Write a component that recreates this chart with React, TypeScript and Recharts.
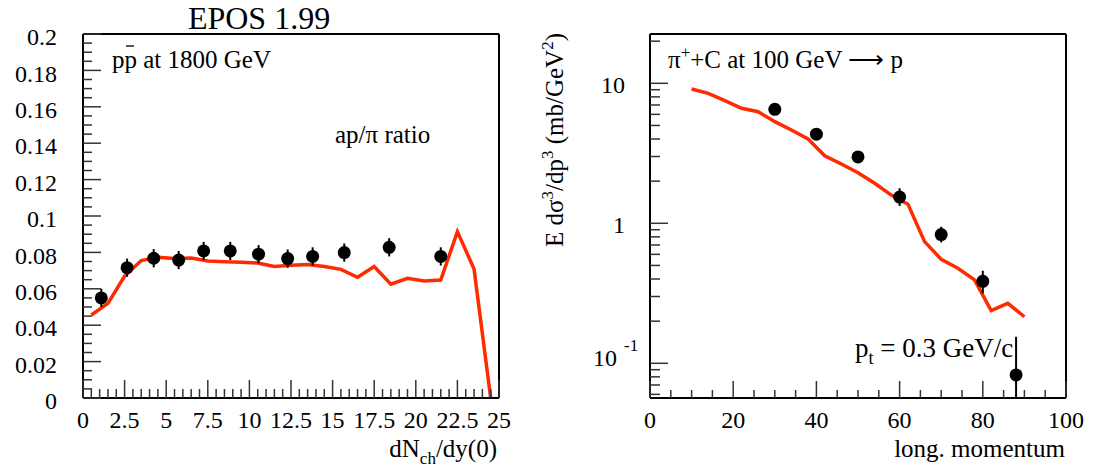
import React from "react";
import {
  ComposedChart,
  Line,
  Scatter,
  XAxis,
  YAxis,
  ErrorBar,
  ReferenceLine,
} from "recharts";

const FONT = "'Liberation Serif', 'Times New Roman', serif";
const RED = "#ff2a00";
const TICK_COLOR = "#333";

// ---------------- Left panel: ap/pi ratio vs dNch/dy(0) ----------------
const leftModelX = [0.5, 1.5, 2.5, 3.5, 4.5, 5.5, 6.5, 7.5, 8.5, 9.5, 10.5, 11.5, 12.5, 13.5, 14.5, 15.5, 16.5, 17.5, 18.5, 19.5, 20.5, 21.5, 22.5, 23.5, 24.5];
const leftModelY = [0.0456, 0.052, 0.067, 0.0755, 0.0773, 0.0767, 0.0769, 0.0753, 0.0749, 0.0746, 0.0742, 0.0723, 0.0729, 0.0733, 0.0722, 0.0707, 0.0663, 0.0722, 0.0625, 0.0658, 0.0643, 0.0648, 0.0914, 0.0709, 0];

const leftDataX = [1.1, 2.65, 4.25, 5.75, 7.25, 8.85, 10.55, 12.3, 13.8, 15.7, 18.4, 21.5];
const leftDataY = [0.055, 0.0716, 0.0768, 0.0758, 0.0808, 0.0808, 0.079, 0.0766, 0.0778, 0.0799, 0.0828, 0.0778];
const leftDataErr = [0.005, 0.005, 0.005, 0.005, 0.005, 0.005, 0.005, 0.005, 0.005, 0.005, 0.005, 0.005];

const leftXMajor = [0, 2.5, 5, 7.5, 10, 12.5, 15, 17.5, 20, 22.5, 25];
const leftXLabels = ["0", "2.5", "5", "7.5", "10", "12.5", "15", "17.5", "20", "22.5", "25"];
const leftYMajor = [0, 0.02, 0.04, 0.06, 0.08, 0.1, 0.12, 0.14, 0.16, 0.18, 0.2];
const leftYLabels = ["0", "0.02", "0.04", "0.06", "0.08", "0.1", "0.12", "0.14", "0.16", "0.18", "0.2"];

// ---------------- Right panel: pi+ C -> p at 100 GeV ----------------
const rightModelX = [10, 14, 18, 22, 26, 30, 34, 38, 42, 46, 50, 54, 58, 62, 66, 70, 74, 78, 82, 86, 90];
const rightModelY = [9.1, 8.48, 7.52, 6.63, 6.27, 5.32, 4.64, 4.0, 3.04, 2.65, 2.3, 1.93, 1.59, 1.37, 0.74, 0.553, 0.477, 0.394, 0.238, 0.268, 0.215];

const rightDataX = [30, 40, 50, 60, 70, 80, 88];
const rightDataY = [6.52, 4.33, 2.98, 1.54, 0.83, 0.385, 0.0826];
const rightErrLow = [0.2, 0.15, 0.1, 0.21, 0.1, 0.069, 0.026];
const rightErrHigh = [0.2, 0.15, 0.1, 0.24, 0.115, 0.073, 0.072];

const rightXMajor = [0, 20, 40, 60, 80, 100];
const rightXLabels = ["0", "20", "40", "60", "80", "100"];
const rightYMajor = [0.1, 1, 10];
const rightYLabelBase = ["10", "1", "10"];
const rightYLabelExp = ["-1", "", ""];
const rightYDomain = [0.0565, 22.5];

// minor ticks from subdividing major intervals
function subdivide(majors: number[], n: number): number[] {
  const out: number[] = [];
  for (let i = 0; i < majors.length - 1; i++) {
    for (let k = 0; k < n; k++) {
      out.push(+(majors[i] + ((majors[i + 1] - majors[i]) * k) / n).toFixed(6));
    }
  }
  out.push(majors[majors.length - 1]);
  return out;
}
function logTicks(lo: number, hi: number): number[] {
  const out: number[] = [];
  for (let e = -2; e <= 2; e++) {
    for (let m = 1; m <= 9; m++) {
      const v = +(m * Math.pow(10, e)).toPrecision(6);
      if (v >= lo && v <= hi) out.push(v);
    }
  }
  return out;
}

const leftXTicks = subdivide(leftXMajor, 5);
const leftYTicks = subdivide(leftYMajor, 4);
const rightXTicks = subdivide(rightXMajor, 4);
const rightYTicks = logTicks(rightYDomain[0], rightYDomain[1]);

const leftModel = leftModelX.map((x, i) => ({ x, y: leftModelY[i] }));
const leftData = leftDataX.map((x, i) => ({ x, y: leftDataY[i], err: leftDataErr[i] }));
const rightModel = rightModelX.map((x, i) => ({ x, y: rightModelY[i] }));
const rightData = rightDataX.map((x, i) => ({ x, y: rightDataY[i], err: [rightErrLow[i], rightErrHigh[i]] }));

const LABEL_FS = 24;

function findMajor(majors: number[], v: number) {
  return majors.findIndex((m) => Math.abs(m - v) <= 1e-6 * Math.max(1e-3, Math.abs(m)));
}

const makeXTick = (majors: number[], labels: string[], margin: number, majLen: number, minLen: number) =>
  (props: any) => {
    const { x, y, payload } = props;
    const i = findMajor(majors, payload.value);
    const axisY = y - margin;
    return (
      <g>
        <line x1={x} x2={x} y1={axisY} y2={axisY - (i >= 0 ? majLen : minLen)} stroke={TICK_COLOR} strokeWidth={1.5} />
        {i >= 0 && (
          <text x={x} y={axisY + 30} textAnchor="middle" fontSize={LABEL_FS} fontFamily={FONT} fill="#000">
            {labels[i]}
          </text>
        )}
      </g>
    );
  };

const makeLinYTick = (majors: number[], labels: string[], margin: number, majLen: number, minLen: number) =>
  (props: any) => {
    const { x, y, payload } = props;
    const i = findMajor(majors, payload.value);
    const axisX = x + margin;
    return (
      <g>
        <line x1={axisX} x2={axisX + (i >= 0 ? majLen : minLen)} y1={y} y2={y} stroke={TICK_COLOR} strokeWidth={1.5} />
        {i >= 0 && (
          <text x={axisX - 26} y={y + 3 + 0.34 * LABEL_FS} textAnchor="end" fontSize={LABEL_FS} fontFamily={FONT} fill="#000">
            {labels[i]}
          </text>
        )}
      </g>
    );
  };

const makeLogYTick = (margin: number, majLen: number, minLen: number) => (props: any) => {
  const { x, y, payload } = props;
  const i = findMajor(rightYMajor, payload.value);
  const axisX = x + margin;
  const exp = i >= 0 ? rightYLabelExp[i] : "";
  return (
    <g>
      <line x1={axisX} x2={axisX + (i >= 0 ? majLen : minLen)} y1={y} y2={y} stroke={TICK_COLOR} strokeWidth={1.5} />
      {i >= 0 && !exp && (
        <text x={axisX - 25} y={y + 2 + 0.34 * LABEL_FS} textAnchor="end" fontSize={LABEL_FS} fontFamily={FONT} fill="#000">
          {rightYLabelBase[i]}
        </text>
      )}
      {i >= 0 && exp && (
        <g>
          <text x={axisX - 33} y={y - 5 + 0.34 * LABEL_FS} textAnchor="end" fontSize={LABEL_FS} fontFamily={FONT} fill="#000">
            {rightYLabelBase[i]}
          </text>
          <text x={axisX - 26} y={y - 12} textAnchor="start" fontSize={17} fontFamily={FONT} fill="#000">
            {exp}
          </text>
        </g>
      )}
    </g>
  );
};

const Dot = (props: any) => {
  const { cx, cy } = props;
  if (cx == null || cy == null) return <g />;
  return <circle cx={cx} cy={cy} r={6.5} fill="#000" />;
};

const AX = { stroke: "#000", strokeWidth: 2 };

export default function App() {
  return (
    <div style={{ position: "absolute", left: 0, top: 0, width: 1103, height: 472, background: "#fff", overflow: "hidden" }}>
      <div style={{ position: "absolute", left: 0, top: 0 }}>
        <ComposedChart width={540} height={472} margin={{ top: 34, right: 41, bottom: 0, left: 0 }}>
          <XAxis
            dataKey="x"
            type="number"
            domain={[0, 25]}
            ticks={leftXTicks}
            interval={0}
            height={74}
            tickSize={0}
            tickMargin={14}
            tickLine={false}
            axisLine={AX}
            tick={makeXTick(leftXMajor, leftXLabels, 14, 18, 9)}
          />
          <YAxis
            type="number"
            domain={[0, 0.2]}
            ticks={leftYTicks}
            interval={0}
            width={83}
            tickSize={0}
            tickMargin={26}
            tickLine={false}
            axisLine={AX}
            allowDataOverflow
            tick={makeLinYTick(leftYMajor, leftYLabels, 26, 18, 9)}
          />
          <ReferenceLine x={25} stroke="#000" strokeWidth={2} ifOverflow="visible" />
          <ReferenceLine y={0.2} stroke="#000" strokeWidth={2} ifOverflow="visible" />
          <Line data={leftModel} dataKey="y" stroke={RED} strokeWidth={3.5} dot={false} isAnimationActive={false} />
          <Scatter data={leftData} dataKey="y" shape={<Dot />} isAnimationActive={false}>
            <ErrorBar dataKey="err" direction="y" width={0} stroke="#000" strokeWidth={2} />
          </Scatter>
        </ComposedChart>
      </div>

      <div style={{ position: "absolute", left: 540, top: 0 }}>
        <ComposedChart width={563} height={472} margin={{ top: 34, right: 37, bottom: 0, left: 0 }}>
          <XAxis
            dataKey="x"
            type="number"
            domain={[0, 100]}
            ticks={rightXTicks}
            interval={0}
            height={74}
            tickSize={0}
            tickMargin={14}
            tickLine={false}
            axisLine={AX}
            tick={makeXTick(rightXMajor, rightXLabels, 14, 17, 8)}
          />
          <YAxis
            type="number"
            scale="log"
            domain={rightYDomain}
            ticks={rightYTicks}
            interval={0}
            width={110}
            tickSize={0}
            tickMargin={25}
            tickLine={false}
            axisLine={AX}
            allowDataOverflow
            tick={makeLogYTick(25, 18, 10)}
          />
          <ReferenceLine x={100} stroke="#000" strokeWidth={2} ifOverflow="visible" />
          <ReferenceLine y={rightYDomain[1]} stroke="#000" strokeWidth={2} ifOverflow="visible" />
          <Line data={rightModel} dataKey="y" stroke={RED} strokeWidth={3.5} dot={false} isAnimationActive={false} />
          <Scatter data={rightData} dataKey="y" shape={<Dot />} isAnimationActive={false}>
            <ErrorBar dataKey="err" direction="y" width={0} stroke="#000" strokeWidth={2} />
          </Scatter>
        </ComposedChart>
      </div>

      <svg width={1103} height={472} style={{ position: "absolute", left: 0, top: 0, pointerEvents: "none" }} fontFamily={FONT} fill="#000">
        <text x={259} y={29} textAnchor="middle" fontSize={32}>EPOS 1.99</text>
        <text x={112} y={68} fontSize={25}>pp at 1800 GeV</text>
        <line x1={126} x2={134} y1={46} y2={46} stroke="#000" strokeWidth={1.3} />
        <text x={335} y={143} fontSize={25}>ap/π ratio</text>
        <text x={497} y={457} textAnchor="end" fontSize={25}>
          dN<tspan dy={7} fontSize={17}>ch</tspan>
          <tspan dy={-7}>/dy(0)</tspan>
        </text>

        <text x={668} y={68} fontSize={25}>
          π<tspan dy={-10} fontSize={17}>+</tspan>
          <tspan dy={10}>+C at 100 GeV ⟶ p</tspan>
        </text>
        <text x={855} y={357} fontSize={27}>
          p<tspan dy={7} fontSize={18}>t</tspan>
          <tspan dy={-7}> = 0.3 GeV/c</tspan>
        </text>
        <text x={1065} y={457} textAnchor="end" fontSize={25}>long. momentum</text>
        <text transform="translate(563,33) rotate(-90)" textAnchor="end" fontSize={25}>
          E dσ<tspan dy={-10} fontSize={17}>3</tspan>
          <tspan dy={10}>/dp</tspan>
          <tspan dy={-10} fontSize={17}>3</tspan>
          <tspan dy={10}> (mb/GeV</tspan>
          <tspan dy={-10} fontSize={17}>2</tspan>
          <tspan dy={10}>)</tspan>
        </text>
      </svg>
    </div>
  );
}
